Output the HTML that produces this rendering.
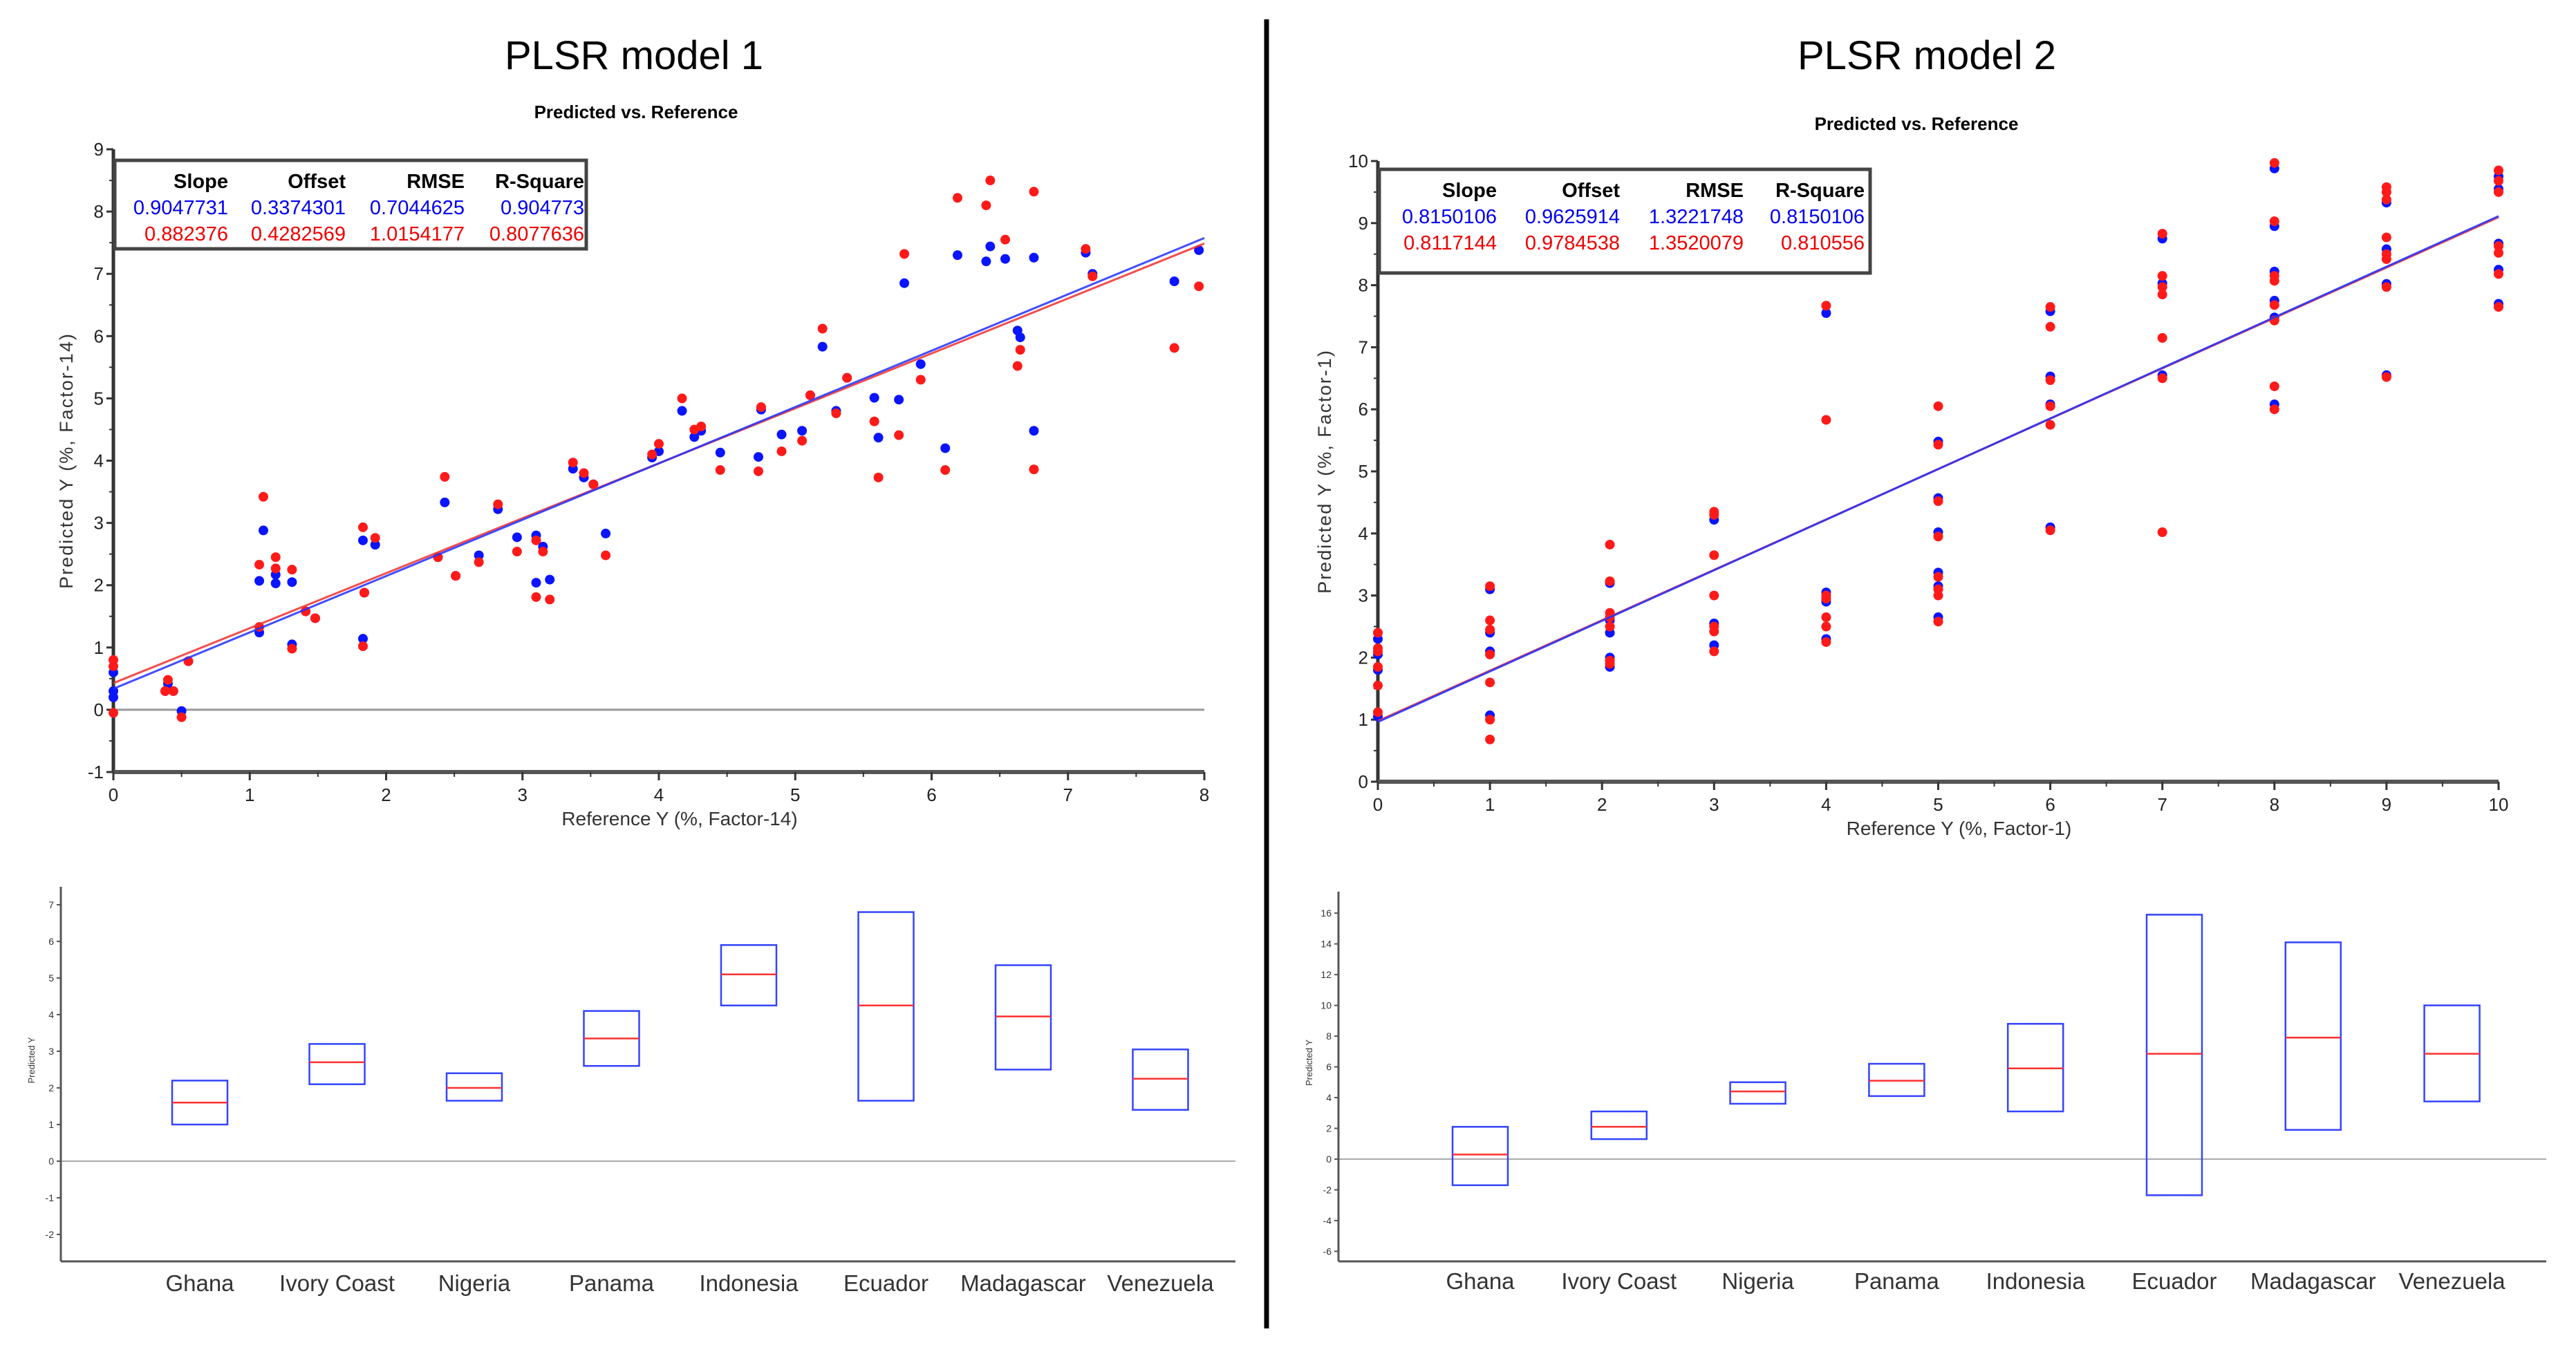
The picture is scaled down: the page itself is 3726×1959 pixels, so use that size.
<!DOCTYPE html>
<html><head><meta charset="utf-8"><style>
html,body{margin:0;padding:0;background:#fff}
svg{display:block;font-family:"Liberation Sans",sans-serif}
</style></head><body>
<svg id="s" width="3726" height="1959" viewBox="0 0 3726 1959">
<rect width="3726" height="1959" fill="#fff"/>
<line x1="1832" y1="28" x2="1832" y2="1922" stroke="#000" stroke-width="7"/>
<text x="917" y="100" font-size="58" text-anchor="middle">PLSR model 1</text>
<text x="2787" y="100" font-size="58" text-anchor="middle">PLSR model 2</text>
<text x="920" y="171" font-size="26" font-weight="bold" text-anchor="middle">Predicted vs. Reference</text>
<text x="2772" y="188" font-size="26" font-weight="bold" text-anchor="middle">Predicted vs. Reference</text>
<g id="g"></g>
</svg>
<script>
const NS='http://www.w3.org/2000/svg';
const G=document.getElementById('g');
function mk(tag,at,parent){const e=document.createElementNS(NS,tag);for(const k in at)e.setAttribute(k,at[k]);(parent||G).appendChild(e);return e;}

// ---- Model 1 scatter data ----
const m1X=[0,0,0,0.38,0.4,0.44,0.5,0.55,1.07,1.07,1.1,1.19,1.19,1.31,1.31,1.41,1.48,1.83,1.83,1.84,1.92,2.38,2.43,2.51,2.68,2.82,2.96,3.1,3.1,3.15,3.2,3.37,3.45,3.52,3.61,3.95,4.0,4.17,4.26,4.31,4.45,4.73,4.75,4.9,5.05,5.11,5.2,5.3,5.38,5.58,5.61,5.76,5.8,5.92,6.1,6.19,6.4,6.43,6.54,6.63,6.65,6.75,6.75,7.13,7.18,7.78,7.96];
const m1Blue=[0.6,0.2,0.3,0.3,0.42,0.3,-0.02,0.78,2.07,1.24,2.88,2.17,2.03,2.05,1.05,1.58,1.47,2.72,1.14,1.88,2.65,2.45,3.33,2.15,2.48,3.22,2.77,2.8,2.04,2.62,2.09,3.87,3.73,3.62,2.83,4.05,4.15,4.8,4.38,4.48,4.13,4.06,4.82,4.42,4.48,5.05,5.83,4.8,5.33,5.01,4.37,4.98,6.85,5.55,4.2,7.3,7.2,7.44,7.24,6.09,5.98,7.26,4.48,7.34,7.0,6.88,7.38];
const m1Red=[0.8,0.7,-0.05,0.3,0.48,0.3,-0.12,0.78,2.33,1.33,3.42,2.45,2.27,2.25,0.98,1.58,1.47,2.93,1.02,1.88,2.76,2.45,3.74,2.15,2.37,3.3,2.54,2.72,1.81,2.54,1.77,3.97,3.8,3.62,2.48,4.1,4.27,5.0,4.5,4.55,3.85,3.83,4.86,4.15,4.32,5.05,6.12,4.76,5.33,4.63,3.73,4.41,7.32,5.3,3.85,8.22,8.1,8.5,7.55,5.52,5.78,8.32,3.86,7.4,6.96,5.81,6.8];
const m1Fit={blue:[0.3374301,0.9047731],red:[0.4282569,0.882376]};
const m1XTicks=[0,1,2,3,4,5,6,7,8];
const m1YTicks=[-1,0,1,2,3,4,5,6,7,8,9];

// ---- Model 2 scatter data ----
const m2BlueX=[0,0,0,0,1,1,1,1,2.07,2.07,2.07,2.07,2.07,3,3,3,4,4,4,4,5,5,5,5,5,5,6,6,6,6,7,7,7,8,8,8,8,8,8,9,9,9,9,10,10,10,10,10];
const m2BlueY=[2.3,2.05,1.8,1.05,3.1,2.4,2.1,1.07,3.2,2.6,2.4,1.85,2.0,4.22,2.55,2.2,7.55,3.05,2.9,2.3,5.48,4.57,4.02,3.37,3.15,2.65,7.58,6.53,6.08,4.1,8.75,8.03,6.55,9.88,8.95,8.22,7.75,7.48,6.08,9.33,8.58,8.02,6.55,9.75,9.55,8.67,8.25,7.7];
const m2RedX=[0,0,0,0,0,0,1,1,1,1,1,1,1,2.07,2.07,2.07,2.07,2.07,2.07,2.07,3,3,3,3,3,3,3,4,4,4,4,4,4,4,5,5,5,5,5,5,5,5,6,6,6,6,6,6,7,7,7,7,7,7,7,8,8,8,8,8,8,8,8,9,9,9,9,9,9,9,9,10,10,10,10,10,10,10];
const m2RedY=[2.4,2.15,2.1,1.85,1.55,1.12,3.15,2.6,2.45,2.05,1.6,1.0,0.68,3.82,3.23,2.72,2.65,2.5,1.95,1.9,4.35,4.3,3.65,3.0,2.5,2.42,2.1,7.67,5.83,3.0,2.95,2.65,2.5,2.25,6.05,5.43,4.52,3.95,3.3,3.1,3.0,2.58,7.65,7.33,6.47,6.05,5.75,4.05,8.83,8.15,7.97,7.85,7.15,6.5,4.02,9.97,9.03,8.15,8.07,7.68,7.43,6.37,6.0,9.58,9.5,9.38,8.77,8.5,8.42,7.97,6.52,9.85,9.68,9.5,8.63,8.52,8.18,7.65];
const m2Fit={blue:[0.9625914,0.8150106],red:[0.9784538,0.8117144]};
const m2XTicks=[0,1,2,3,4,5,6,7,8,9,10];
const m2YTicks=[0,1,2,3,4,5,6,7,8,9,10];

// ---- Box plot data ----
const countries=['Ghana','Ivory Coast','Nigeria','Panama','Indonesia','Ecuador','Madagascar','Venezuela'];
const box1Low=[1.0,2.1,1.65,2.6,4.25,1.65,2.5,1.4];
const box1Mid=[1.6,2.7,2.0,3.35,5.1,4.25,3.95,2.25];
const box1High=[2.2,3.2,2.4,4.1,5.9,6.8,5.35,3.05];
const box1Ticks=[-2,-1,0,1,2,3,4,5,6,7];
const box2Low=[-1.7,1.3,3.6,4.1,3.1,-2.35,1.9,3.75];
const box2Mid=[0.3,2.1,4.4,5.1,5.9,6.85,7.9,6.85];
const box2High=[2.1,3.1,5.0,6.2,8.8,15.9,14.1,10.0];
const box2Ticks=[-6,-4,-2,0,2,4,6,8,10,12,14,16];

function scatter(cfg){
  const sx=v=>cfg.x0+(v-cfg.xmin)*(cfg.x1-cfg.x0)/(cfg.xmax-cfg.xmin);
  const sy=v=>cfg.y0-(v-cfg.ymin)*(cfg.y0-cfg.y1)/(cfg.ymax-cfg.ymin);
  const g=mk('g',{});
  
  
  if(cfg.zero){const z=mk('line',{x1:cfg.x0,x2:cfg.x1,y1:sy(0),y2:sy(0),stroke:'#999','stroke-width':3},g);
    }
  // axes
  const ya=mk('line',{x1:cfg.x0,x2:cfg.x0,y1:cfg.y0,y2:cfg.y1,stroke:'#333','stroke-width':5},g);
  
  const xa=mk('line',{x1:cfg.x0,x2:cfg.x1,y1:cfg.y0,y2:cfg.y0,stroke:'#555','stroke-width':6},g);
  
  cfg.xt.forEach(t=>{
    mk('line',{x1:sx(t),x2:sx(t),y1:cfg.y0,y2:cfg.y0+12,stroke:'#333','stroke-width':3},g);
    const h=(t+0.5<=cfg.xmax)?sx(t+0.5):null; if(h!==null) mk('line',{x1:h,x2:h,y1:cfg.y0,y2:cfg.y0+7,stroke:'#333','stroke-width':2},g);
    const l=mk('text',{x:sx(t),y:cfg.y0+42,'font-size':26,'text-anchor':'middle',fill:'#222'},g);l.textContent=t;
    
  });
  cfg.yt.forEach(t=>{
    mk('line',{x1:cfg.x0-10,x2:cfg.x0,y1:sy(t),y2:sy(t),stroke:'#333','stroke-width':3},g);
    if(t+0.5<=cfg.ymax) mk('line',{x1:cfg.x0-6,x2:cfg.x0,y1:sy(t+0.5),y2:sy(t+0.5),stroke:'#333','stroke-width':2},g);
    const l=mk('text',{x:cfg.x0-14,y:sy(t)+9,'font-size':26,'text-anchor':'end',fill:'#222'},g);l.textContent=t;
    
  });
  const xl=mk('text',{x:(cfg.x0+cfg.x1)/2+30,y:cfg.y0+77,'font-size':28,'text-anchor':'middle',fill:'#333'},g);xl.textContent=cfg.xlabel;
  
  const yc=(cfg.y0+cfg.y1)/2;
  const yl=mk('text',{x:cfg.ylx,y:yc,'font-size':27,'text-anchor':'middle',fill:'#333','letter-spacing':2,transform:`rotate(-90 ${cfg.ylx} ${yc})`},g);yl.textContent=cfg.ylabel;
  
  // points
  const pts=(xs,ys,col,nm)=>xs.forEach((x,i)=>{const c=mk('circle',{cx:sx(x),cy:sy(ys[i]),r:7,fill:col},g);
    });
  pts(cfg.bx,cfg.by,'#0a14ff','point-calibration');
  pts(cfg.rx,cfg.ry,'#ff1a1a','point-validation');
  // fit lines
  [['red','#f03030'],['blue','#2030ff']].forEach(([k,col])=>{
    const [o,s]=cfg.fit[k];
    const ln=mk('line',{x1:sx(cfg.xmin<0?0:cfg.xmin),y1:sy(o+s*Math.max(cfg.xmin,0)),x2:sx(cfg.xmax),y2:sy(o+s*cfg.xmax),stroke:col,'stroke-width':3,opacity:0.85},g);
    
  });
  // legend
  const L=cfg.leg;
  const lb=mk('rect',{x:L.x,y:L.y,width:L.w,height:L.h,fill:'#fff',stroke:'#444','stroke-width':5},g);
  
  const cols=L.cols;
  const rows=[[['Slope','Offset','RMSE','R-Square'],'#000'],[L.blue,'#0000ee'],[L.red,'#ee0000']];
  rows.forEach((r,ri)=>r[0].forEach((t,ci)=>{
    const e=mk('text',{x:cols[ci],y:L.y+40+ri*38,'font-size':29,'text-anchor':'end',fill:r[1],'font-weight':ri==0?'bold':'normal'},g);
    e.textContent=t;
  }));
}

scatter({name:'model1-scatter',x0:164,x1:1742,xmin:0,xmax:8,y0:1117,y1:216,ymin:-1,ymax:9,zero:true,
  xt:m1XTicks,yt:m1YTicks,xlabel:'Reference Y (%, Factor-14)',ylabel:'Predicted Y (%, Factor-14)',ylx:105,
  bx:m1X,by:m1Blue,rx:m1X,ry:m1Red,fit:m1Fit,
  leg:{x:166,y:232,w:682,h:128,cols:[330,500,672,845],blue:['0.9047731','0.3374301','0.7044625','0.904773'],red:['0.882376','0.4282569','1.0154177','0.8077636']}});
scatter({name:'model2-scatter',x0:1993,x1:3614,xmin:0,xmax:10,y0:1131,y1:233,ymin:0,ymax:10,zero:false,
  xt:m2XTicks,yt:m2YTicks,xlabel:'Reference Y (%, Factor-1)',ylabel:'Predicted Y (%, Factor-1)',ylx:1925,
  bx:m2BlueX,by:m2BlueY,rx:m2RedX,ry:m2RedY,fit:m2Fit,
  leg:{x:1995,y:245,w:710,h:150,cols:[2165,2343,2522,2697],blue:['0.8150106','0.9625914','1.3221748','0.8150106'],red:['0.8117144','0.9784538','1.3520079','0.810556']}});

function boxes(cfg){
  const sy=v=>cfg.zy-v*cfg.unit;
  const g=mk('g',{});
  
  
  const z=mk('line',{x1:cfg.x0,x2:cfg.x1,y1:sy(0),y2:sy(0),stroke:'#aaa','stroke-width':2},g);
  
  const ya=mk('line',{x1:cfg.x0,x2:cfg.x0,y1:cfg.top,y2:cfg.bot,stroke:'#555','stroke-width':3},g);
  
  const xa=mk('line',{x1:cfg.x0,x2:cfg.x1,y1:cfg.bot,y2:cfg.bot,stroke:'#555','stroke-width':3},g);
  
  cfg.ticks.forEach(t=>{
    mk('line',{x1:cfg.x0-6,x2:cfg.x0,y1:sy(t),y2:sy(t),stroke:'#555','stroke-width':2},g);
    const l=mk('text',{x:cfg.x0-10,y:sy(t)+5,'font-size':14,'text-anchor':'end',fill:'#333'},g);l.textContent=t;
    
  });
  const yc=(cfg.top+cfg.bot)/2, ylx=cfg.x0-38;
  const yl=mk('text',{x:ylx,y:yc-20,'font-size':13,'text-anchor':'middle',fill:'#333',transform:`rotate(-90 ${ylx} ${yc-20})`},g);yl.textContent='Predicted Y';
  
  countries.forEach((c,i)=>{
    const cx=cfg.cx[0]+i*cfg.cx[1], w=80;
    const r=mk('rect',{x:cx-w/2,y:sy(cfg.hi[i]),width:w,height:sy(cfg.lo[i])-sy(cfg.hi[i]),fill:'none',stroke:'#3344ff','stroke-width':2.5},g);
    
    const m=mk('line',{x1:cx-w/2,x2:cx+w/2,y1:sy(cfg.mid[i]),y2:sy(cfg.mid[i]),stroke:'#ff3030','stroke-width':2.5},g);
    
    const l=mk('text',{x:cx,y:cfg.ly,'font-size':33,'text-anchor':'middle',fill:'#333'},g);l.textContent=c;
    
  });
}
boxes({name:'model1-boxplot',x0:88,x1:1787,zy:1680,unit:53,top:1283,bot:1825,ticks:box1Ticks,cx:[289,198.5],ly:1868,lo:box1Low,mid:box1Mid,hi:box1High});
boxes({name:'model2-boxplot',x0:1936,x1:3683,zy:1677,unit:22.24,top:1290,bot:1825,ticks:box2Ticks,cx:[2141,200.8],ly:1865,lo:box2Low,mid:box2Mid,hi:box2High});
</script>
</body></html>
